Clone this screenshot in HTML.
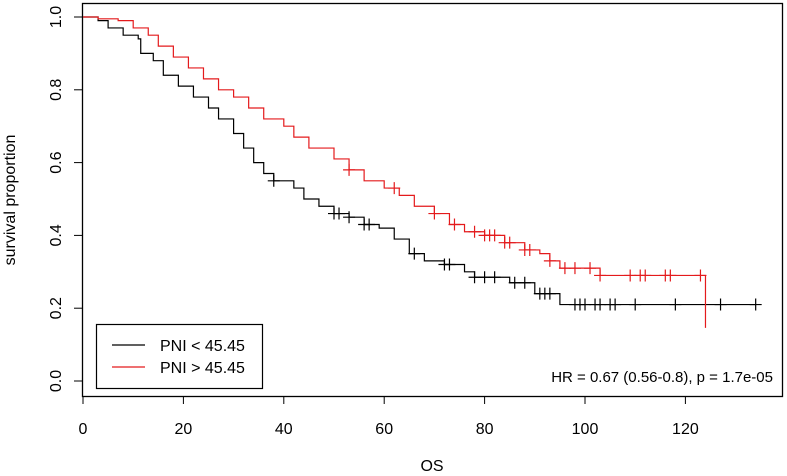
<!DOCTYPE html>
<html><head><meta charset="utf-8"><style>
body{margin:0;background:#fff;}
svg{display:block;font-family:"Liberation Sans",sans-serif;}
</style></head><body>
<svg id="chart" width="787" height="476" viewBox="0 0 787 476">
<rect x="82.5" y="3.5" width="700" height="393" fill="none" stroke="#000" stroke-width="1.3"/>
<g id="axes"></g>
<g id="series"></g>
<text transform="translate(15,200) rotate(-90)" text-anchor="middle" font-size="16">survival proportion</text>
<text x="432" y="471" text-anchor="middle" font-size="16">OS</text>
<text x="773" y="382" text-anchor="end" font-size="15">HR = 0.67 (0.56-0.8), p = 1.7e-05</text>
<g>
<rect x="96.5" y="324.5" width="166" height="64" fill="#fff" stroke="#000" stroke-width="1.2"/>
<line x1="112" y1="345" x2="145" y2="345" stroke="#000" stroke-width="1.2"/>
<text x="160" y="351" font-size="16">PNI &lt; 45.45</text>
<line x1="112" y1="367" x2="145" y2="367" stroke="#e41a1c" stroke-width="1.2"/>
<text x="160" y="373" font-size="16">PNI &gt; 45.45</text>
</g>
</svg>
<script>
const xTicks=[0,20,40,60,80,100,120];
const yTicks=[0.0,0.2,0.4,0.6,0.8,1.0];
const lowTimes=[0,3,5,8,11,11.5,14,16,19,22,25,27,30,32,34,36,38,42,44,47,50,53,56,59,62,65,68,72,76,78,85,90,95];
const lowSurv=[1,0.99,0.97,0.95,0.94,0.90,0.88,0.84,0.81,0.78,0.75,0.72,0.68,0.64,0.60,0.57,0.55,0.53,0.50,0.48,0.46,0.45,0.43,0.42,0.39,0.35,0.33,0.32,0.30,0.285,0.27,0.24,0.21];
const lowEnd=134;
const lowCensor=[38,50,51,53,56,57,66,72,73,78,80,82,86,88,91,92,93,98,99,100,102,103,105,106,110,118,127,134];
const highTimes=[0,3,7,10,13,15,18,21,24,27,30,33,36,40,42,45,50,53,56,60,63,66,70,73,76,80,84,88,91,93,95,103,124];
const highSurv=[1,0.995,0.99,0.97,0.95,0.92,0.89,0.86,0.83,0.80,0.78,0.75,0.72,0.70,0.67,0.64,0.61,0.58,0.55,0.53,0.51,0.48,0.46,0.43,0.41,0.40,0.38,0.36,0.35,0.33,0.31,0.29,0.146];
const highEnd=124;
const highCensor=[53,62,70,74,78,80,81,82,84,85,88,89,93,96,98,101,103,109,111,112,116,117,123];
const NS='http://www.w3.org/2000/svg';
const sx=v=>83+v*5.02, sy=v=>381-v*364;
const axes=document.getElementById('axes'), series=document.getElementById('series');
function mk(tag,attrs,parent){const e=document.createElementNS(NS,tag);for(const k in attrs)e.setAttribute(k,attrs[k]);parent.appendChild(e);return e;}
xTicks.forEach(t=>{
 const l=mk('line',{x1:sx(t),x2:sx(t),y1:396,y2:404,stroke:'#000','stroke-width':1},axes);
 
 
 const tx=mk('text',{x:sx(t),y:434,'text-anchor':'middle','font-size':16},axes);tx.textContent=t;
 
 
});
yTicks.forEach(t=>{
 const l=mk('line',{x1:74,x2:82.5,y1:sy(t),y2:sy(t),stroke:'#000','stroke-width':1},axes);
 
 
 const tx=mk('text',{transform:`translate(61,${sy(t)}) rotate(-90)`,'text-anchor':'middle','font-size':16},axes);tx.textContent=t.toFixed(1);
 
 
});
function survAt(times,surv,t){let s=surv[0];for(let i=0;i<times.length;i++){if(times[i]<=t)s=surv[i];}return s;}
function draw(times,surv,end,censor,color,name){
 let d=`M${sx(times[0])},${sy(surv[0])}`;
 for(let i=1;i<times.length;i++){d+=`H${sx(times[i])}V${sy(surv[i])}`;}
 d+=`H${sx(end)}`;
 const p=mk('path',{d:d,fill:'none',stroke:color,'stroke-width':1.2},series);
 
 
 censor.forEach(c=>{
  const x=sx(c),y=sy(survAt(times,surv,c));
  const m=mk('path',{d:`M${x-6},${y}H${x+6}M${x},${y-6}V${y+6}`,stroke:color,'stroke-width':1.2},series);
  
  
 });
}
draw(lowTimes,lowSurv,lowEnd,lowCensor,'#000','pni-low');
draw(highTimes,highSurv,highEnd,highCensor,'#e41a1c','pni-high');
</script>
</body></html>
